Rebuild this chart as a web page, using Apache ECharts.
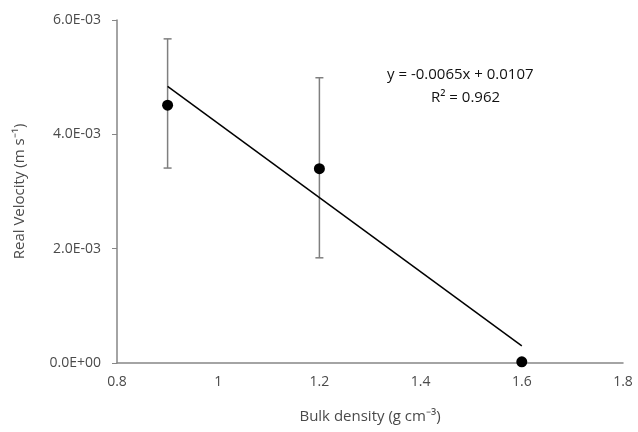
<!DOCTYPE html>
<html>
<head>
<meta charset="utf-8">
<script src="https://cdn.jsdelivr.net/npm/echarts@6/dist/echarts.min.js"></script>
<style>
  html, body { margin: 0; padding: 0; background: #fff; }
  #chart { width: 638px; height: 432px; }
</style>
</head>
<body>
<div id="chart"></div>
<script>
// data
const bulkDensity = [0.9, 1.2, 1.6];
const velocity = [0.00451, 0.00340, 0.00002];
const errLow = [0.00341, 0.00184, 0.00002];
const errHigh = [0.00567, 0.00499, 0.00002];
const trendX = [0.9, 1.6];
const trendY = [0.00484, 0.00030];
const yTicks = [0, 0.002, 0.004, 0.006];

const textColor = '#4a4a4a';
const axisColor = '#868686';
const font = 'Open Sans';

function sciLabel(v) {
  // 2.0E-03 style
  if (v === 0) return '0.0E+00';
  const e = Math.floor(Math.log10(Math.abs(v)) + 1e-9);
  const m = (v / Math.pow(10, e)).toFixed(1);
  const sign = e < 0 ? '-' : '+';
  const ex = String(Math.abs(e)).padStart(2, '0');
  return m + 'E' + sign + ex;
}

const chart = echarts.init(document.getElementById('chart'));

const option = {
  animation: false,
  grid: { left: 117, right: 15, top: 20, bottom: 69 },
  xAxis: {
    type: 'value',
    min: 0.8,
    max: 1.8,
    interval: 0.2,
    name: 'Bulk density (g cm\u207B\u00B3)',
    nameLocation: 'middle',
    nameGap: 46,
    nameTextStyle: { color: textColor, fontFamily: font, fontSize: 15 },
    axisLine: { lineStyle: { color: axisColor, width: 1.5 } },
    axisTick: { show: false },
    splitLine: { show: false },
    axisLabel: {
      color: textColor, fontFamily: font, fontSize: 14, margin: 12,
      formatter: v => String(Math.round(v * 10) / 10)
    }
  },
  yAxis: {
    type: 'value',
    min: 0,
    max: yTicks[yTicks.length - 1],
    interval: 0.002,
    name: 'Real Velocity (m s\u207B\u00B9)',
    nameLocation: 'middle',
    nameGap: 90,
    nameRotate: 90,
    nameTextStyle: { color: textColor, fontFamily: font, fontSize: 15 },
    axisLine: { show: true, lineStyle: { color: axisColor, width: 1.5 } },
    axisTick: { show: true, length: 5, lineStyle: { color: axisColor } },
    splitLine: { show: false },
    axisLabel: {
      color: textColor, fontFamily: font, fontSize: 14, margin: 16,
      formatter: sciLabel
    }
  },
  series: [
    {
      type: 'custom',
      name: 'error',
      data: bulkDensity.map((x, i) => [x, errLow[i], errHigh[i]]),
      renderItem: function (params, api) {
        const x = api.value(0);
        const lo = api.coord([x, api.value(1)]);
        const hi = api.coord([x, api.value(2)]);
        const half = 4;
        const style = { stroke: '#7f7f7f', lineWidth: 1.5 };
        return {
          type: 'group',
          children: [
            { type: 'line', shape: { x1: lo[0], y1: lo[1], x2: hi[0], y2: hi[1] }, style },
            { type: 'line', shape: { x1: hi[0] - half, y1: hi[1], x2: hi[0] + half, y2: hi[1] }, style },
            { type: 'line', shape: { x1: lo[0] - half, y1: lo[1], x2: lo[0] + half, y2: lo[1] }, style }
          ]
        };
      },
      z: 1
    },
    {
      type: 'line',
      name: 'trend',
      data: trendX.map((x, i) => [x, trendY[i]]),
      symbol: 'none',
      lineStyle: { color: '#000', width: 1.5 },
      z: 2
    },
    {
      type: 'scatter',
      name: 'velocity',
      data: bulkDensity.map((x, i) => [x, velocity[i]]),
      symbol: 'circle',
      symbolSize: 11,
      itemStyle: { color: '#000', opacity: 1 },
      z: 3
    }
  ],
  graphic: [
    {
      type: 'text', left: 387, top: 67,
      style: { text: 'y = -0.0065x + 0.0107', fill: '#111', font: '15px "Open Sans"' }
    },
    {
      type: 'text', left: 431, top: 90,
      style: { text: 'R\u00B2 = 0.962', fill: '#111', font: '15px "Open Sans"' }
    }
  ]
};

chart.setOption(option);
</script>
</body>
</html>
